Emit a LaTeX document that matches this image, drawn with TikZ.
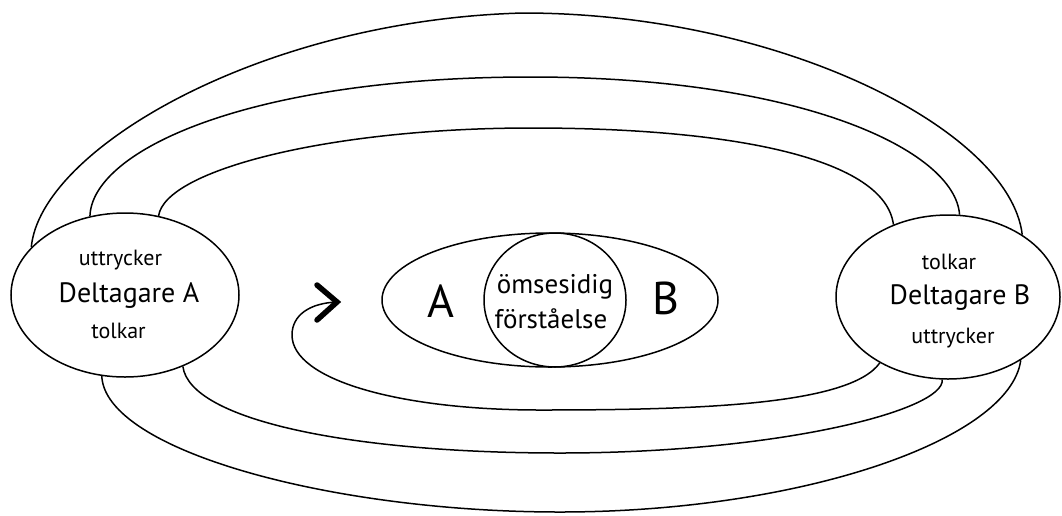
\documentclass[tikz,border=0pt]{standalone}
\usepackage{fontspec}
\setmainfont{PT Sans}
\usetikzlibrary{shapes.geometric}
\begin{document}
\begin{tikzpicture}[x=1pt,y=-1pt,line width=1.5pt,
  oval/.style={draw, ellipse, inner sep=0pt},
  conn/.style={draw, line width=1.5pt},
  chev/.style={draw, line width=5.5pt, line cap=round, line join=miter},
  small/.style={anchor=base, inner sep=0pt, font=\fontsize{22}{24}\selectfont},
  big/.style={anchor=base, inner sep=0pt, font=\fontsize{28}{30}\selectfont},
  huge/.style={anchor=base, inner sep=0pt, font=\fontsize{46}{48}\selectfont},
  mid/.style={anchor=base, inner sep=0pt, font=\fontsize{27}{29}\selectfont}]
\useasboundingbox (0,0) rectangle (1062,515);
% participant ellipses
\node[oval, minimum width=228pt, minimum height=164pt] (L) at (125,295) {};
\node[oval, minimum width=224pt, minimum height=164pt] (R) at (948,297) {};
% central ellipse and circle
\node[oval, minimum width=336pt, minimum height=134pt] (M) at (550,300) {};
\node[oval, minimum width=142pt, minimum height=134pt] (C) at (555,300) {};
% texts
\node[small] (La) at (120.5,265) {uttrycker};
\node[big]   (Lb) at (129,302) {Deltagare A};
\node[small] (Lc) at (118.5,338) {tolkar};
\node[small] (Ra) at (949,269) {tolkar};
\node[big]   (Rb) at (960,304) {Deltagare B};
\node[small] (Rc) at (953,343) {uttrycker};
\node[huge]  (A) at (441,317) {A};
\node[huge]  (B) at (666,314) {B};
\node[mid]   (C1) at (555,293) {ömsesidig};
\node[mid]   (C2) at (551,328) {förståelse};
% top arcs
\draw[conn] (L.153) .. controls (40,150) and (260,20) .. (523,13)
  .. controls (780,13) and (1010,130) .. (R.40);
\draw[conn] (L.114) .. controls (92,150) and (250,77) .. (531,77)
  .. controls (800,77) and (955,150) .. (R.82);
\draw[conn] (L.67) .. controls (165,170) and (330,128) .. (531,128)
  .. controls (740,128) and (885,160) .. (R.127);
% bottom arcs
\draw[conn] (L.254) .. controls (105,450) and (330,512) .. (560,512)
  .. controls (800,512) and (1010,440) .. (R.-41);
\draw[conn] (L.-51) .. controls (190,420) and (350,453) .. (560,453)
  .. controls (780,453) and (945,410) .. (R.-94);
% returning arrow
\coordinate (tip) at (337,302);
\draw[conn] (R.-136) .. controls (850,405) and (700,410) .. (540,410)
  .. controls (400,410) and (292,380) .. (292,335)
  .. controls (292,315) and (310,303) .. (tip);
\draw[chev] (317,285) -- (tip) -- (317,320);
\end{tikzpicture}
\end{document}
